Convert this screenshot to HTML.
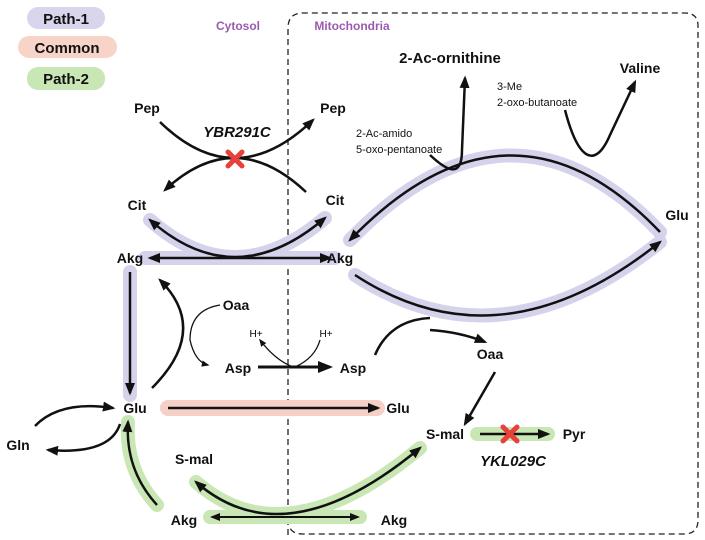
<!DOCTYPE html>
<html><head><style>
html,body{margin:0;padding:0;background:#fff;}
svg{display:block;font-family:"Liberation Sans",Arial,sans-serif;}
.b{font-weight:bold;font-size:14px;fill:#111;}
.s{font-size:11px;fill:#111;}
</style></head><body>
<svg width="705" height="540" viewBox="0 0 705 540" xmlns="http://www.w3.org/2000/svg">
<defs>
<marker id="a" viewBox="0 0 10 10" refX="8" refY="5" markerWidth="5" markerHeight="5" orient="auto-start-reverse" markerUnits="strokeWidth"><path d="M0,1 L10,5 L0,9 z" fill="#111"/></marker>
<marker id="as" viewBox="0 0 10 10" refX="8" refY="5" markerWidth="6" markerHeight="6" orient="auto" markerUnits="strokeWidth"><path d="M0,1 L10,5 L0,9 z" fill="#111"/></marker>
</defs>
<rect x="27" y="7" width="78" height="22" rx="11" fill="#d8d5ec"/>
<text x="66" y="24" text-anchor="middle" class="b" style="font-size:15px">Path-1</text>
<rect x="18" y="36" width="99" height="22" rx="11" fill="#f8d3c8"/>
<text x="67" y="53" text-anchor="middle" class="b" style="font-size:15px">Common</text>
<rect x="27" y="67" width="78" height="23" rx="11" fill="#c9e6b5"/>
<text x="66" y="84" text-anchor="middle" class="b" style="font-size:15px">Path-2</text>
<text x="238" y="30" text-anchor="middle" font-size="12" font-weight="bold" fill="#9a5bb0">Cytosol</text>
<text x="352" y="30" text-anchor="middle" font-size="12" font-weight="bold" fill="#9a5bb0">Mitochondria</text>
<path d="M288,535 L288,28 Q288,13 303,13 L685,13 Q698,13 698,26 L698,520 Q698,534 684,534 L303,534 Q293,534 290,528" fill="none" stroke="#222" stroke-width="1.3" stroke-dasharray="6,4"/>

<g fill="none" stroke-linecap="round">
<path d="M150,220 Q235,295 325,218" stroke="#d5d3ec" stroke-width="14"/>
<line x1="145" y1="258" x2="335" y2="258" stroke="#d5d3ec" stroke-width="14"/>
<line x1="130" y1="272" x2="130" y2="395" stroke="#d5d3ec" stroke-width="14"/>
<path d="M350,240 Q510,75 660,232" stroke="#d5d3ec" stroke-width="14"/>
<path d="M355,275 Q500,370 660,242" stroke="#d5d3ec" stroke-width="14"/>
<line x1="168" y1="408" x2="377" y2="408" stroke="#f6cfc6" stroke-width="16"/>
<path d="M157,505 Q125,470 128,422" stroke="#c9e6b5" stroke-width="14"/>
<path d="M196,482 Q285,560 420,448" stroke="#c9e6b5" stroke-width="14"/>
<line x1="210" y1="517" x2="360" y2="517" stroke="#c9e6b5" stroke-width="14"/>
<line x1="477" y1="434" x2="548" y2="434" stroke="#c9e6b5" stroke-width="14"/>
</g>

<g fill="none" stroke="#111" stroke-width="2.5">
<path d="M160,122 Q235,195 313,120" marker-end="url(#a)"/>
<path d="M306,192 Q235,125 165,190" marker-end="url(#a)"/>
<path d="M150,220 Q235,295 325,218" marker-start="url(#a)" marker-end="url(#a)"/>
<line x1="150" y1="258" x2="330" y2="258" marker-start="url(#a)" marker-end="url(#a)"/>
<line x1="130" y1="272" x2="130" y2="393" marker-end="url(#a)"/>
<path d="M152,388 Q210,330 160,280" marker-end="url(#a)"/>
<path d="M350,240 Q510,75 660,232" marker-start="url(#a)"/>
<path d="M355,275 Q500,370 660,242" marker-end="url(#a)"/>
<path d="M430,155 C448,172 462,178 462,150 L465,78" marker-end="url(#a)"/>
<path d="M565,110 C578,160 595,170 610,135 L635,82" marker-end="url(#a)"/>
<path d="M430,330 Q460,332 485,342" marker-end="url(#a)"/>
<path d="M375,355 Q390,320 430,318"/>
<line x1="495" y1="372" x2="465" y2="424" marker-end="url(#a)"/>
<line x1="258" y1="367" x2="330" y2="367" stroke-width="3" marker-end="url(#a)"/>
<line x1="168" y1="408" x2="378" y2="408" marker-end="url(#a)"/>
<path d="M35,426 Q60,400 113,408" marker-end="url(#a)"/>
<path d="M120,424 Q110,455 48,450" marker-end="url(#a)"/>
<path d="M157,505 Q125,470 128,422" marker-end="url(#a)"/>
<path d="M196,482 Q285,560 420,448" marker-start="url(#a)" marker-end="url(#a)"/>
<line x1="212" y1="517" x2="358" y2="517" stroke-width="2" marker-start="url(#a)" marker-end="url(#a)"/>
<line x1="480" y1="434" x2="548" y2="434" marker-end="url(#a)"/>
</g>
<g fill="none" stroke="#111" stroke-width="1.3">
<path d="M220,305 Q190,310 190,340 Q195,362 208,365" marker-end="url(#as)"/>
<path d="M293,367 Q275,360 260,340" marker-end="url(#as)"/>
<path d="M295,367 Q315,358 320,340"/>
</g>
<g stroke="#e8403a" stroke-width="5" stroke-linecap="round">
<line x1="228" y1="152" x2="242" y2="166"/><line x1="242" y1="152" x2="228" y2="166"/>
<line x1="503" y1="427" x2="517" y2="441"/><line x1="517" y1="427" x2="503" y2="441"/>
</g>

<g class="b">
<text x="147" y="113" text-anchor="middle" class="b">Pep</text>
<text x="333" y="113" text-anchor="middle" class="b">Pep</text>
<text x="237" y="137" text-anchor="middle" class="b" font-style="italic" style="font-size:15px">YBR291C</text>
<text x="137" y="210" text-anchor="middle" class="b">Cit</text>
<text x="335" y="205" text-anchor="middle" class="b">Cit</text>
<text x="130" y="263" text-anchor="middle" class="b">Akg</text>
<text x="340" y="263" text-anchor="middle" class="b">Akg</text>
<text x="677" y="220" text-anchor="middle" class="b">Glu</text>
<text x="450" y="63" text-anchor="middle" class="b" style="font-size:15px">2-Ac-ornithine</text>
<text x="640" y="73" text-anchor="middle" class="b">Valine</text>
<text x="236" y="310" text-anchor="middle" class="b">Oaa</text>
<text x="238" y="373" text-anchor="middle" class="b">Asp</text>
<text x="353" y="373" text-anchor="middle" class="b">Asp</text>
<text x="490" y="359" text-anchor="middle" class="b">Oaa</text>
<text x="135" y="413" text-anchor="middle" class="b">Glu</text>
<text x="398" y="413" text-anchor="middle" class="b">Glu</text>
<text x="18" y="450" text-anchor="middle" class="b">Gln</text>
<text x="445" y="439" text-anchor="middle" class="b">S-mal</text>
<text x="574" y="439" text-anchor="middle" class="b">Pyr</text>
<text x="513" y="466" text-anchor="middle" class="b" font-style="italic" style="font-size:15px">YKL029C</text>
<text x="194" y="464" text-anchor="middle" class="b">S-mal</text>
<text x="184" y="525" text-anchor="middle" class="b">Akg</text>
<text x="394" y="525" text-anchor="middle" class="b">Akg</text>
</g>
<text x="356" y="137" class="s">2-Ac-amido</text>
<text x="356" y="153" class="s">5-oxo-pentanoate</text>
<text x="497" y="90" class="s">3-Me</text>
<text x="497" y="106" class="s">2-oxo-butanoate</text>
<text x="256" y="337" text-anchor="middle" font-size="10">H+</text>
<text x="326" y="337" text-anchor="middle" font-size="10">H+</text>
</svg>
</body></html>
